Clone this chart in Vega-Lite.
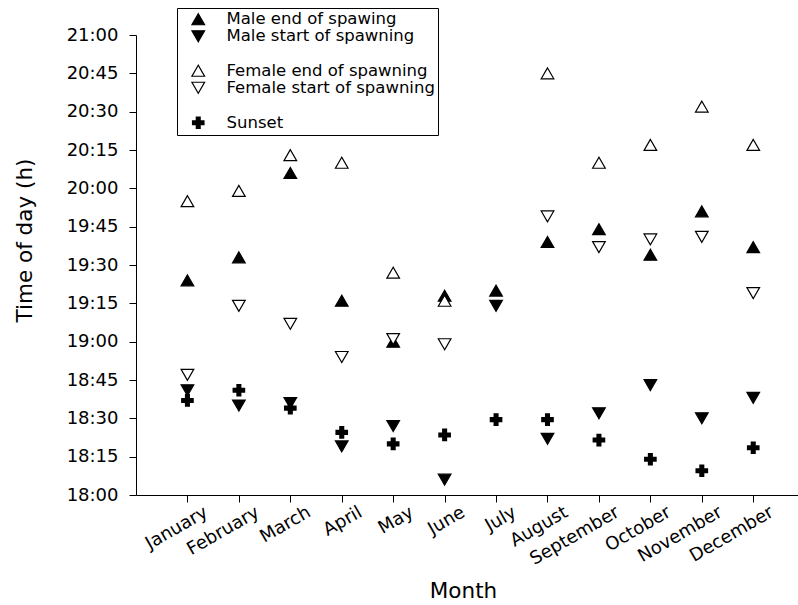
{
  "$schema": "https://vega.github.io/schema/vega-lite/v6.json",
  "width": 662,
  "height": 460,
  "autosize": {"type": "none"},
  "padding": {"left": 136, "top": 35, "right": 0, "bottom": 110},
  "background": "white",
  "config": {
    "view": {"stroke": null},
    "font": "DejaVu Sans",
    "axis": {
      "domainColor": "black",
      "tickColor": "black",
      "domainWidth": 1,
      "tickWidth": 1,
      "tickSize": 7,
      "grid": false,
      "labelColor": "black",
      "labelFont": "DejaVu Sans",
      "labelFontSize": 18,
      "titleColor": "black",
      "titleFont": "DejaVu Sans",
      "titleFontSize": 21.5,
      "titleFontWeight": "normal"
    }
  },
  "data": {
    "values": [
      {"month": 1, "series": "Male end of spawing", "time": "2000-01-01T19:24:00"},
      {"month": 2, "series": "Male end of spawing", "time": "2000-01-01T19:33:00"},
      {"month": 3, "series": "Male end of spawing", "time": "2000-01-01T20:06:00"},
      {"month": 4, "series": "Male end of spawing", "time": "2000-01-01T19:16:00"},
      {"month": 5, "series": "Male end of spawing", "time": "2000-01-01T19:00:00"},
      {"month": 6, "series": "Male end of spawing", "time": "2000-01-01T19:18:00"},
      {"month": 7, "series": "Male end of spawing", "time": "2000-01-01T19:20:00"},
      {"month": 8, "series": "Male end of spawing", "time": "2000-01-01T19:39:00"},
      {"month": 9, "series": "Male end of spawing", "time": "2000-01-01T19:44:00"},
      {"month": 10, "series": "Male end of spawing", "time": "2000-01-01T19:34:00"},
      {"month": 11, "series": "Male end of spawing", "time": "2000-01-01T19:51:00"},
      {"month": 12, "series": "Male end of spawing", "time": "2000-01-01T19:37:00"},
      {"month": 1, "series": "Male start of spawning", "time": "2000-01-01T18:41:00"},
      {"month": 2, "series": "Male start of spawning", "time": "2000-01-01T18:35:00"},
      {"month": 3, "series": "Male start of spawning", "time": "2000-01-01T18:36:00"},
      {"month": 4, "series": "Male start of spawning", "time": "2000-01-01T18:19:00"},
      {"month": 5, "series": "Male start of spawning", "time": "2000-01-01T18:27:00"},
      {"month": 6, "series": "Male start of spawning", "time": "2000-01-01T18:06:00"},
      {"month": 7, "series": "Male start of spawning", "time": "2000-01-01T19:14:00"},
      {"month": 8, "series": "Male start of spawning", "time": "2000-01-01T18:22:00"},
      {"month": 9, "series": "Male start of spawning", "time": "2000-01-01T18:32:00"},
      {"month": 10, "series": "Male start of spawning", "time": "2000-01-01T18:43:00"},
      {"month": 11, "series": "Male start of spawning", "time": "2000-01-01T18:30:00"},
      {"month": 12, "series": "Male start of spawning", "time": "2000-01-01T18:38:00"},
      {"month": 1, "series": "Female end of spawning", "time": "2000-01-01T19:55:00"},
      {"month": 2, "series": "Female end of spawning", "time": "2000-01-01T19:59:00"},
      {"month": 3, "series": "Female end of spawning", "time": "2000-01-01T20:13:00"},
      {"month": 4, "series": "Female end of spawning", "time": "2000-01-01T20:10:00"},
      {"month": 5, "series": "Female end of spawning", "time": "2000-01-01T19:27:00"},
      {"month": 6, "series": "Female end of spawning", "time": "2000-01-01T19:16:00"},
      {"month": 8, "series": "Female end of spawning", "time": "2000-01-01T20:45:00"},
      {"month": 9, "series": "Female end of spawning", "time": "2000-01-01T20:10:00"},
      {"month": 10, "series": "Female end of spawning", "time": "2000-01-01T20:17:00"},
      {"month": 11, "series": "Female end of spawning", "time": "2000-01-01T20:32:00"},
      {"month": 12, "series": "Female end of spawning", "time": "2000-01-01T20:17:00"},
      {"month": 1, "series": "Female start of spawning", "time": "2000-01-01T18:47:00"},
      {"month": 2, "series": "Female start of spawning", "time": "2000-01-01T19:14:00"},
      {"month": 3, "series": "Female start of spawning", "time": "2000-01-01T19:07:00"},
      {"month": 4, "series": "Female start of spawning", "time": "2000-01-01T18:54:00"},
      {"month": 5, "series": "Female start of spawning", "time": "2000-01-01T19:01:00"},
      {"month": 6, "series": "Female start of spawning", "time": "2000-01-01T18:59:00"},
      {"month": 8, "series": "Female start of spawning", "time": "2000-01-01T19:49:00"},
      {"month": 9, "series": "Female start of spawning", "time": "2000-01-01T19:37:00"},
      {"month": 10, "series": "Female start of spawning", "time": "2000-01-01T19:40:00"},
      {"month": 11, "series": "Female start of spawning", "time": "2000-01-01T19:41:00"},
      {"month": 12, "series": "Female start of spawning", "time": "2000-01-01T19:19:00"},
      {"month": 1, "series": "Sunset", "time": "2000-01-01T18:37:00"},
      {"month": 2, "series": "Sunset", "time": "2000-01-01T18:41:00"},
      {"month": 3, "series": "Sunset", "time": "2000-01-01T18:34:00"},
      {"month": 4, "series": "Sunset", "time": "2000-01-01T18:24:30"},
      {"month": 5, "series": "Sunset", "time": "2000-01-01T18:20:00"},
      {"month": 6, "series": "Sunset", "time": "2000-01-01T18:23:30"},
      {"month": 7, "series": "Sunset", "time": "2000-01-01T18:29:30"},
      {"month": 8, "series": "Sunset", "time": "2000-01-01T18:29:30"},
      {"month": 9, "series": "Sunset", "time": "2000-01-01T18:21:30"},
      {"month": 10, "series": "Sunset", "time": "2000-01-01T18:14:00"},
      {"month": 11, "series": "Sunset", "time": "2000-01-01T18:09:30"},
      {"month": 12, "series": "Sunset", "time": "2000-01-01T18:18:30"}
    ]
  },
  "mark": {"type": "point", "strokeWidth": 1.2, "opacity": 1},
  "encoding": {
    "x": {
      "field": "month",
      "type": "quantitative",
      "scale": {"domain": [0, 12.87], "nice": false, "zero": false},
      "axis": {
        "title": "Month",
        "values": [1, 2, 3, 4, 5, 6, 7, 8, 9, 10, 11, 12],
        "labelExpr": "['January','February','March','April','May','June','July','August','September','October','November','December'][datum.value - 1]",
        "labelAngle": -30,
        "labelAlign": "right",
        "labelBaseline": "top",
        "labelPadding": 1,
        "labelOffset": 14,
        "labelFlush": false,
        "labelOverlap": false,
        "titleX": 327,
        "titleY": 102,
        "titleBaseline": "alphabetic"
      }
    },
    "y": {
      "field": "time",
      "type": "temporal",
      "scale": {
        "domain": [
          {"year": 2000, "month": 1, "date": 1, "hours": 18, "minutes": 0},
          {"year": 2000, "month": 1, "date": 1, "hours": 21, "minutes": 0}
        ]
      },
      "axis": {
        "title": "Time of day (h)",
        "format": "%H:%M",
        "labelPadding": 11,
        "labelFlush": false,
        "labelOverlap": false,
        "titleX": -100,
        "titleY": 205,
        "values": [
          {"year": 2000, "month": 1, "date": 1, "hours": 18, "minutes": 0},
          {"year": 2000, "month": 1, "date": 1, "hours": 18, "minutes": 15},
          {"year": 2000, "month": 1, "date": 1, "hours": 18, "minutes": 30},
          {"year": 2000, "month": 1, "date": 1, "hours": 18, "minutes": 45},
          {"year": 2000, "month": 1, "date": 1, "hours": 19, "minutes": 0},
          {"year": 2000, "month": 1, "date": 1, "hours": 19, "minutes": 15},
          {"year": 2000, "month": 1, "date": 1, "hours": 19, "minutes": 30},
          {"year": 2000, "month": 1, "date": 1, "hours": 19, "minutes": 45},
          {"year": 2000, "month": 1, "date": 1, "hours": 20, "minutes": 0},
          {"year": 2000, "month": 1, "date": 1, "hours": 20, "minutes": 15},
          {"year": 2000, "month": 1, "date": 1, "hours": 20, "minutes": 30},
          {"year": 2000, "month": 1, "date": 1, "hours": 20, "minutes": 45},
          {"year": 2000, "month": 1, "date": 1, "hours": 21, "minutes": 0}
        ]
      }
    },
    "shape": {
      "field": "series",
      "type": "nominal",
      "scale": {
        "domain": ["Male end of spawing", "Male start of spawning", "sp1", "Female end of spawning", "Female start of spawning", "sp2", "Sunset"],
        "range": ["triangle-up", "triangle-down", "circle", "triangle-up", "triangle-down", "circle", "cross"]
      },
      "legend": {
        "title": null,
        "orient": "none",
        "legendX": 41,
        "legendY": -27,
        "strokeColor": "black",
        "fillColor": "white",
        "padding": 3,
        "rowPadding": -0.5,
        "symbolOffset": 10,
        "labelOffset": 20,
        "labelFont": "DejaVu Sans",
        "labelFontSize": 16.5,
        "labelColor": "black",
        "labelLimit": 400,
        "symbolStrokeWidth": 1.2,
        "labelExpr": "datum.value == 'sp1' || datum.value == 'sp2' ? '' : datum.label"
      }
    },
    "fill": {
      "field": "series",
      "type": "nominal",
      "scale": {
        "domain": ["Male end of spawing", "Male start of spawning", "sp1", "Female end of spawning", "Female start of spawning", "sp2", "Sunset"],
        "range": ["black", "black", "transparent", "white", "white", "transparent", "black"]
      }
    },
    "stroke": {
      "field": "series",
      "type": "nominal",
      "scale": {
        "domain": ["Male end of spawing", "Male start of spawning", "sp1", "Female end of spawning", "Female start of spawning", "sp2", "Sunset"],
        "range": ["black", "black", "transparent", "black", "black", "transparent", "transparent"]
      }
    },
    "size": {
      "field": "series",
      "type": "nominal",
      "scale": {
        "domain": ["Male end of spawing", "Male start of spawning", "sp1", "Female end of spawning", "Female start of spawning", "sp2", "Sunset"],
        "range": [160, 160, 160, 160, 160, 160, 80]
      }
    }
  }
}
